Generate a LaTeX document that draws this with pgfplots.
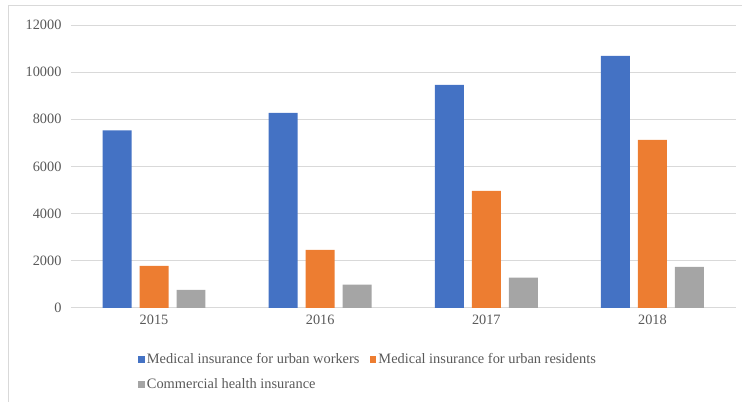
\documentclass[border=0pt]{standalone}
\usepackage{pgfplots}
\pgfplotsset{compat=1.18}
\usepackage{fontspec}
\setmainfont{Liberation Serif}
\definecolor{cblue}{HTML}{4472C4}
\definecolor{corange}{HTML}{ED7D31}
\definecolor{cgray}{HTML}{A5A5A5}
\definecolor{txt}{HTML}{595959}
\definecolor{gridc}{HTML}{D9D9D9}
\begin{document}
\begin{tikzpicture}[x=1pt,y=1pt]
\path (0,0) rectangle (742,402);
\draw[color=gridc, line width=1pt] (9,0) -- (9,396) -- (742,396);
\begin{axis}[
  at={(71pt,94pt)}, anchor=south west,
  scale only axis, width=665pt, height=283pt,
  ybar=8pt, bar width=29pt,
  xmin=-0.5, xmax=3.5, ymin=0, ymax=12000,
  xtick={0,1,2,3}, xticklabels={2015,2016,2017,2018},
  ytick={0,2000,4000,6000,8000,10000,12000},
  scaled ticks=false,
  ymajorgrids, grid style={color=gridc, line width=0.9pt},
  axis line style={draw=none},
  major tick length=0pt,
  /pgf/number format/1000 sep={},
  /pgf/number format/assume math mode=true,
  tick label style={font=\fontsize{14.3}{16}\selectfont, text=txt},
  yticklabel style={xshift=-6pt},
  xticklabel style={yshift=-4pt},
  legend columns=2,
  legend cell align=left,
  legend style={draw=none, fill=none, at={(rel axis cs:0.096,-0.146)}, anchor=north west,
    font=\fontsize{14.4}{16}\selectfont, text=txt,
    /tikz/every even column/.append style={column sep=8pt},
    row sep=10pt},
]
\addplot[fill=cblue, draw=none, legend image code/.code={\fill[cblue] (0pt,-3.5pt) rectangle (7pt,3.5pt);}] coordinates {(0,7530) (1,8270) (2,9460) (3,10690)};
\addplot[fill=corange, draw=none, legend image code/.code={\fill[corange] (0pt,-3.5pt) rectangle (7pt,3.5pt);}] coordinates {(0,1780) (1,2460) (2,4960) (3,7120)};
\addplot[fill=cgray, draw=none, legend image code/.code={\fill[cgray] (0pt,-3.5pt) rectangle (7pt,3.5pt);}] coordinates {(0,760) (1,980) (2,1280) (3,1740)};
\legend{Medical insurance for urban workers, Medical insurance for urban residents, Commercial health insurance}
\end{axis}
\end{tikzpicture}
\end{document}
